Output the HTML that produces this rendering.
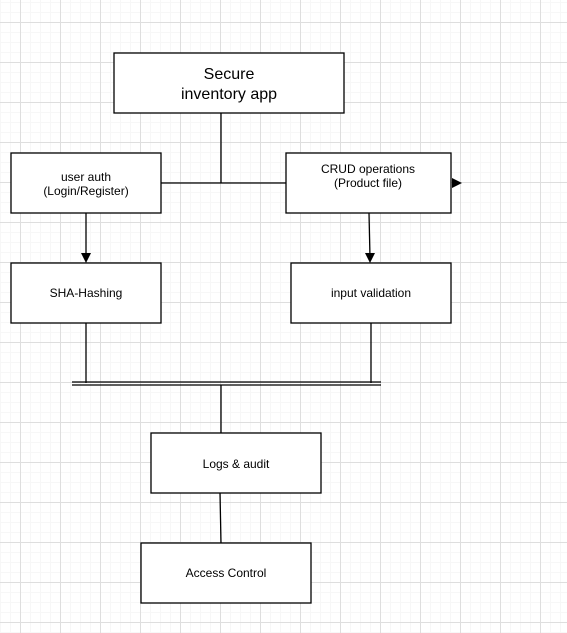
<!DOCTYPE html>
<html><head><style>
body{margin:0;width:567px;height:633px;overflow:hidden;background:#fff;
background-image:linear-gradient(#dedede 1px,transparent 1px),linear-gradient(90deg,#dedede 1px,transparent 1px),linear-gradient(#f7f7f7 1px,transparent 1px),linear-gradient(90deg,#f7f7f7 1px,transparent 1px);
background-size:40px 40px,40px 40px,10px 10px,10px 10px;background-position:0 22px,20px 0,0 2px,0 0;}
</style></head><body>
<svg width="567" height="633" style="position:absolute;left:0;top:0" font-family="Liberation Sans, Arial, sans-serif">
<g stroke="#000" stroke-width="1.3" fill="none">
<line x1="221" y1="113" x2="221" y2="183"/>
<line x1="161" y1="183" x2="286" y2="183"/>
<line x1="86" y1="213" x2="86" y2="258"/>
<line x1="369" y1="213" x2="370" y2="258"/>
<line x1="86" y1="323" x2="86" y2="383"/>
<line x1="371" y1="323" x2="371" y2="383"/>
<line x1="72" y1="382" x2="381" y2="382"/>
<line x1="72" y1="385" x2="381" y2="385"/>
<line x1="221" y1="385" x2="221" y2="433"/>
<line x1="220" y1="493" x2="221" y2="543"/>
</g>
<g fill="#000">
<path d="M452,178L462,183L452,188Z"/>
<path d="M81,253L86,263L91,253Z"/>
<path d="M365,253L370,263L375,253Z"/>
</g>
<g stroke="#000" stroke-width="1.3" fill="#fff">
<rect x="114" y="53" width="230" height="60"/>
<rect x="11" y="153" width="150" height="60"/>
<rect x="286" y="153" width="165" height="60"/>
<rect x="11" y="263" width="150" height="60"/>
<rect x="291" y="263" width="160" height="60"/>
<rect x="151" y="433" width="170" height="60"/>
<rect x="141" y="543" width="170" height="60"/>
</g>
<g fill="#000" text-anchor="middle" font-size="12">
<text x="229" y="79" font-size="16">Secure</text>
<text x="229" y="99" font-size="16">inventory app</text>
<text x="86" y="181">user auth</text>
<text x="86" y="195">(Login/Register)</text>
<text x="368" y="173">CRUD operations</text>
<text x="368" y="187">(Product file)</text>
<text x="86" y="297">SHA-Hashing</text>
<text x="371" y="297">input validation</text>
<text x="236" y="468">Logs &amp; audit</text>
<text x="226" y="577">Access Control</text>
</g>
</svg>
</body></html>
